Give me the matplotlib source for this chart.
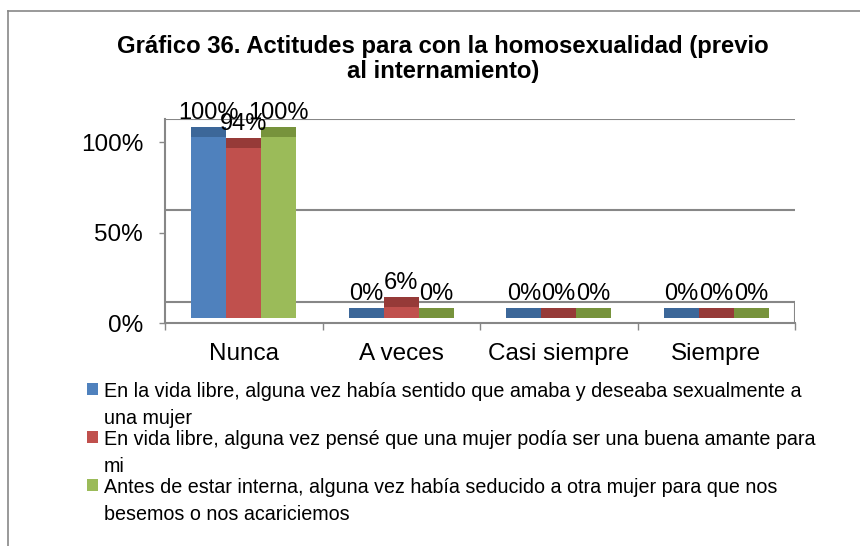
import matplotlib
matplotlib.use("Agg")
import matplotlib.pyplot as plt
from matplotlib import font_manager
from matplotlib.patches import Rectangle
from matplotlib.lines import Line2D

# ---- data -------------------------------------------------------------
categories = ["Nunca", "A veces", "Casi siempre", "Siempre"]
series_labels = [
    "En la vida libre, alguna vez había sentido que amaba y deseaba sexualmente a\nuna mujer",
    "En vida libre, alguna vez pensé que una mujer podía ser una buena amante para\nmi",
    "Antes de estar interna, alguna vez había seducido a otra mujer para que nos\nbesemos o nos acariciemos",
]
values_amaba = [100, 0, 0, 0]
values_amante = [94, 6, 0, 0]
values_seducido = [100, 0, 0, 0]
y_ticks = [0, 50, 100]
title_lines = [
    "Gráfico 36. Actitudes para con la homosexualidad (previo",
    "al internamiento)",
]

series_values = [values_amaba, values_amante, values_seducido]
front_colors = ["#4F81BD", "#C0504D", "#9BBB59"]
top_colors = ["#3C6799", "#963A38", "#77933C"]
line_gray = "#878787"

# ---- fonts ------------------------------------------------------------
available = {f.name for f in font_manager.fontManager.ttflist}
base_font = "Liberation Sans" if "Liberation Sans" in available else "DejaVu Sans"
if "Liberation Sans Narrow" in available:
    legend_font, legend_size = "Liberation Sans Narrow", 16.0
else:
    legend_font, legend_size = base_font, 14.2
plt.rcParams["font.family"] = [base_font, "DejaVu Sans"]

W, H, DPI = 860, 546, 100
fig = plt.figure(figsize=(W / DPI, H / DPI), dpi=DPI)
fig.patch.set_facecolor("white")


def fx(px):
    return px / W


def fy(py):
    return 1 - py / H


# ---- plot area (pseudo-3D columns) -----------------------------------
ax_left, ax_right, ax_top, ax_bottom = 165, 795, 119, 323
ax = fig.add_axes([fx(ax_left), fy(ax_bottom), (ax_right - ax_left) / W,
                   (ax_bottom - ax_top) / H])
YTOP = 113.0
ax.set_xlim(-0.5, len(categories) - 0.5)
ax.set_ylim(0, YTOP)
for s in ax.spines.values():
    s.set_visible(False)
ax.set_facecolor("none")

FLOOR = 11.6        # back-wall baseline above the front axis
BACK_SCALE = 1.015  # back wall is slightly taller than the front scale
BAR_BASE = 2.8      # front face of the columns starts slightly above the axis
CAP = 5.5           # visible depth of the column tops
x0, x1 = -0.5, len(categories) - 0.5

lw = 1.5
# back wall gridlines
for v in y_ticks[1:]:
    ax.plot([x0, x1], [FLOOR + v * BACK_SCALE] * 2, color=line_gray, lw=lw,
            zorder=1, solid_capstyle="butt")
# floor outline
ax.plot([x0, x1], [FLOOR, FLOOR], color=line_gray, lw=lw, zorder=1)
ax.plot([x1, x1], [0, FLOOR], color=line_gray, lw=lw, zorder=1)
# left wall edge and category axis
ax.plot([x0, x0], [0, FLOOR + 100 * BACK_SCALE], color=line_gray, lw=lw,
        zorder=1, clip_on=False)
ax.plot([x0, x1], [0, 0], color=line_gray, lw=lw, zorder=1, clip_on=False)

bar_w = 0.222
offsets = [-bar_w, 0.0, bar_w]
for si, vals in enumerate(series_values):
    for ci, v in enumerate(vals):
        xc = ci + offsets[si]
        ax.add_patch(Rectangle((xc - bar_w / 2, BAR_BASE), bar_w, v,
                               facecolor=front_colors[si], edgecolor="none",
                               zorder=3))
        ax.add_patch(Rectangle((xc - bar_w / 2, BAR_BASE + v), bar_w, CAP,
                               facecolor=top_colors[si], edgecolor="none",
                               zorder=3))
        ax.annotate(f"{v}%", (xc, BAR_BASE + v + CAP), xytext=(0, 5.8),
                    textcoords="offset points", ha="center", va="baseline",
                    fontsize=17, color="black", zorder=5,
                    annotation_clip=False)

# value axis ticks
ax.set_yticks(y_ticks)
ax.set_yticklabels([f"{t}%" for t in y_ticks])
ax.tick_params(axis="y", direction="out", length=4.3, width=1,
               color=line_gray, pad=11.5, labelsize=17.5)

# category axis ticks at group boundaries, labels at group centres
ax.set_xticks([i - 0.5 for i in range(len(categories) + 1)])
ax.set_xticklabels([])
ax.tick_params(axis="x", direction="out", length=5, width=1, color=line_gray)
label_y = (ax_bottom - 360) / (ax_bottom - ax_top)
for ci, name in enumerate(categories):
    ax.text(ci, label_y, name, transform=ax.get_xaxis_transform(),
            ha="center", va="baseline", fontsize=17.5)

# ---- title ------------------------------------------------------------
fig.text(fx(443), fy(53), title_lines[0], ha="center", va="baseline",
         fontsize=17.2, fontweight="bold")
fig.text(fx(443), fy(78), title_lines[1], ha="center", va="baseline",
         fontsize=17.2, fontweight="bold")

# ---- legend -----------------------------------------------------------
first_baselines = [397, 445, 493]
for si, label in enumerate(series_labels):
    b = first_baselines[si]
    fig.patches.append(Rectangle((fx(87), fy(b - 2)), 11 / W, 12 / H,
                                 transform=fig.transFigure,
                                 facecolor=front_colors[si], edgecolor="none"))
    for li, line in enumerate(label.split("\n")):
        fig.text(fx(104), fy(b + 27 * li), line, ha="left", va="baseline",
                 fontsize=legend_size, family=[legend_font, "DejaVu Sans"])

# ---- chart frame ------------------------------------------------------
fig.lines.append(Line2D([fx(8), fx(8)], [fy(11), 0], transform=fig.transFigure,
                        color=line_gray, lw=1.2))
fig.lines.append(Line2D([fx(8), 1], [fy(11), fy(11)], transform=fig.transFigure,
                        color=line_gray, lw=1.2))

fig.savefig("out.png", dpi=DPI, facecolor="white")
